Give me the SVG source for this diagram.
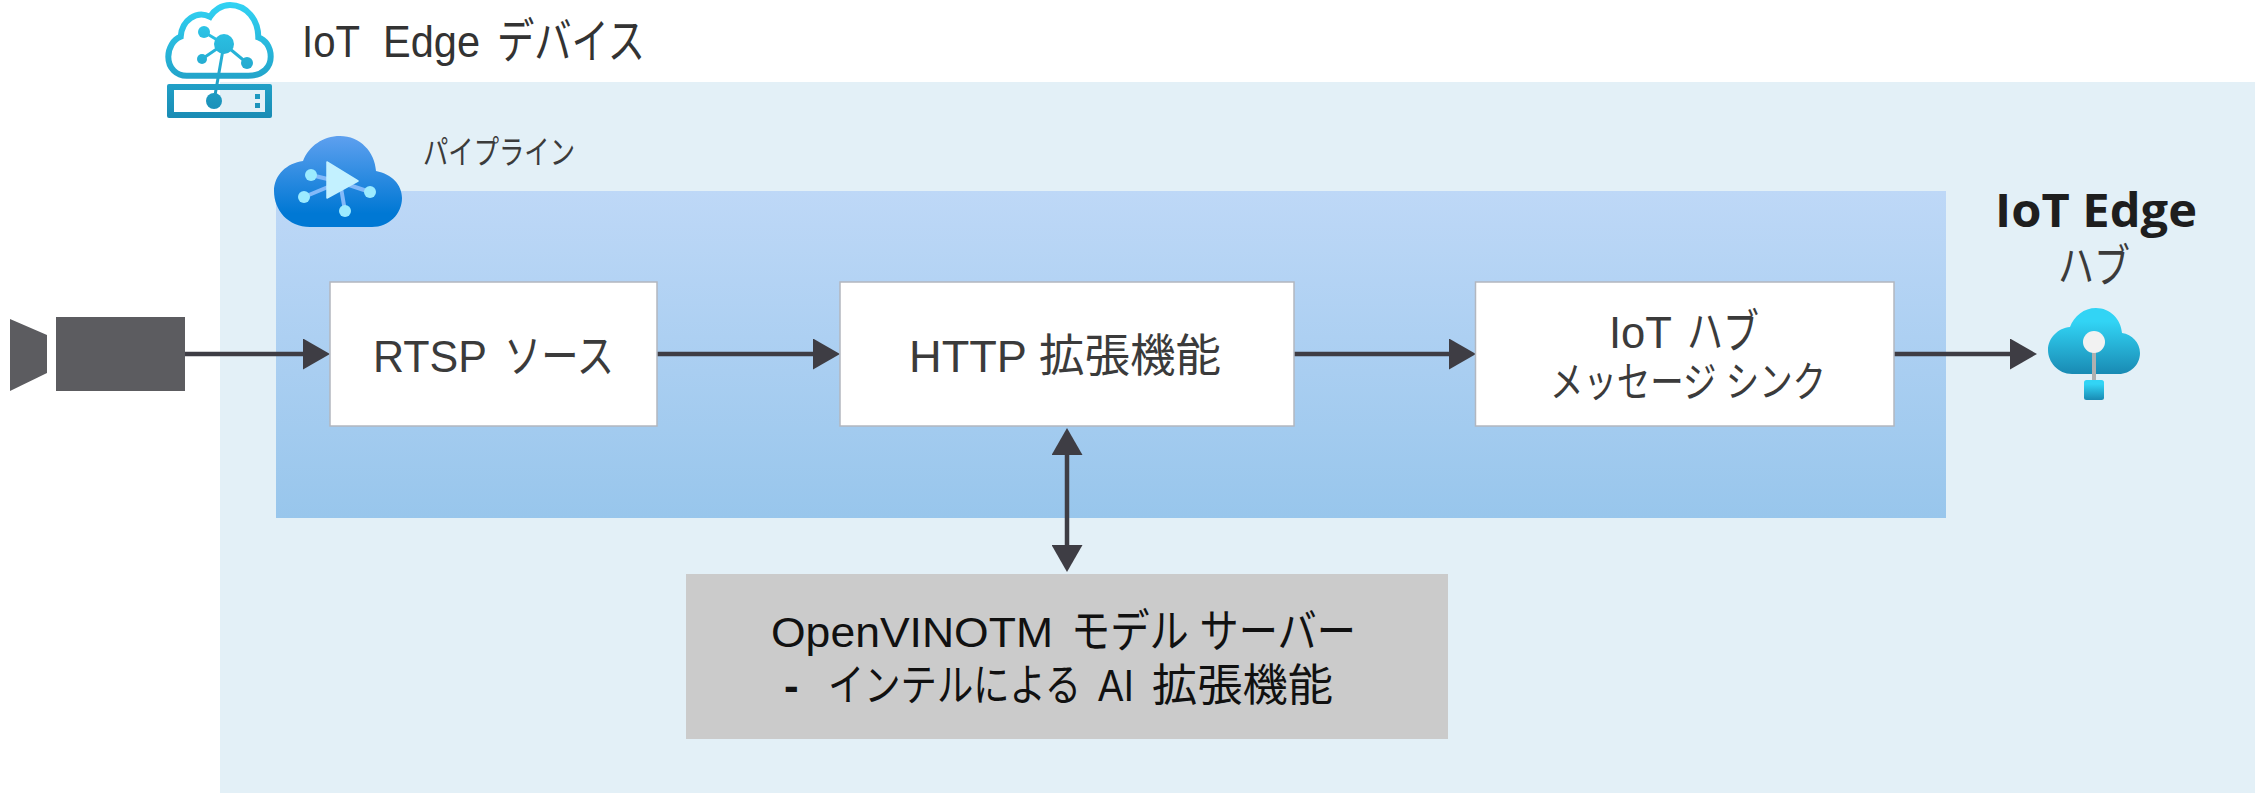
<svg xmlns="http://www.w3.org/2000/svg" width="2255" height="799" viewBox="0 0 2255 799">
<style>
.t{font-family:"Liberation Sans","Noto Sans CJK JP",sans-serif;fill:#3b3b3b}
.box{fill:#fff;stroke:#b2b7bf;stroke-width:1.5}
.cn{fill:none;stroke:#3e3d44;stroke-width:4.5}
</style>
<defs>
<linearGradient id="pipe" x1="0" y1="0" x2="0" y2="1"><stop offset="0" stop-color="#bed8f7"/><stop offset="1" stop-color="#98c6ec"/></linearGradient>
<linearGradient id="cy" gradientUnits="userSpaceOnUse" x1="0" y1="0" x2="0" y2="120"><stop offset="0" stop-color="#32d4f5"/><stop offset="1" stop-color="#198ab3"/></linearGradient>
<linearGradient id="bl" x1="0" y1="0" x2="0" y2="1"><stop offset="0" stop-color="#5ea0ef"/><stop offset="0.85" stop-color="#0078d4"/></linearGradient>
<linearGradient id="hub" x1="0" y1="0" x2="0" y2="1"><stop offset="0.2" stop-color="#32d4f5"/><stop offset="1" stop-color="#198ab3"/></linearGradient>
<marker id="ah" markerUnits="userSpaceOnUse" markerWidth="27" markerHeight="31" refX="17" refY="15.5" orient="auto-start-reverse"><path d="M0 0L27 15.5L0 31Z" fill="#3e3d44"/></marker>
</defs>
<rect id="edge-device-area" x="220" y="82" width="2035" height="711" fill="#e3f0f7"/>
<rect id="pipeline-area" x="276" y="191" width="1670" height="327" fill="url(#pipe)"/>
<g id="edge-device-icon">
<path d="M186.700 75.700L248.300 75.700C263.300 75.700 270.700 66.700 270.700 56.700C270.700 46.700 265 39.300 258.300 37.300C258.300 20 246.700 5 230 5C221.700 5 214 10 210 16.700C196.700 10 181.700 20 180.700 36.700C173.300 39.300 168.300 48.300 168.300 56.700C168.300 68.300 176.700 75.700 186.700 75.700Z" fill="none" stroke="url(#cy)" stroke-width="6"/>
<path d="M224 44L204 32M224 44L202 59M224 44L247 63M224 44L214 101" fill="none" stroke="url(#cy)" stroke-width="3"/>
<circle cx="224" cy="44" r="10" fill="url(#cy)"/><circle cx="204" cy="32" r="6" fill="url(#cy)"/><circle cx="202" cy="59" r="5" fill="url(#cy)"/><circle cx="247" cy="63" r="6" fill="url(#cy)"/><circle cx="214" cy="101" r="8" fill="url(#cy)"/>
<path fill-rule="evenodd" d="M169 84H270a2 2 0 0 1 2 2V116a2 2 0 0 1-2 2H169a2 2 0 0 1-2-2V86a2 2 0 0 1 2-2ZM174 90V112H265V90Z" fill="url(#cy)"/>
<rect x="255" y="94" width="5" height="5" fill="url(#cy)"/><rect x="255" y="103" width="5" height="5" fill="url(#cy)"/>
</g>
<text id="edge-device-label" class="t" y="57" font-size="45" style="fill:#333"><tspan x="302" textLength="58" lengthAdjust="spacingAndGlyphs">IoT</tspan><tspan x="383" y="57" textLength="97" lengthAdjust="spacingAndGlyphs">Edge</tspan><tspan x="497" y="58" font-size="48" textLength="148" lengthAdjust="spacingAndGlyphs">デバイス</tspan></text>
<g id="pipeline-icon">
<path d="M310 227C288 227 274 210 274 191C274 175 287 163 303 161C309 146 323 136 340 136C360 136 375 152 376 171C392 174 402 185 402 198C402 214 389 227 372 227Z" fill="url(#bl)"/>
<path d="M311 175L340 182M304 197L340 182M370 192L340 182M345 211L340 182" fill="none" stroke="#83b9f9" stroke-width="4"/>
<circle cx="311" cy="175" r="6" fill="#9cebff"/><circle cx="304" cy="197" r="6" fill="#9cebff"/><circle cx="370" cy="192" r="6" fill="#9cebff"/><circle cx="345" cy="211" r="6" fill="#9cebff"/>
<path d="M327 162L358 181L327 198Z" fill="#c3f1ff" stroke="#c3f1ff" stroke-width="1.500" stroke-linejoin="round"/>
</g>
<text id="pipeline-label" class="t" x="423" y="164" font-size="33" textLength="152" lengthAdjust="spacingAndGlyphs">パイプライン</text>
<g id="camera">
<path d="M10 319L47 335V373L10 391Z" fill="#5c5c60"/>
<rect x="56" y="317" width="129" height="74" fill="#5c5c60"/>
</g>
<g id="connectors">
<path class="cn" d="M185 354H320" marker-end="url(#ah)"/>
<path class="cn" d="M657 354H830" marker-end="url(#ah)"/>
<path class="cn" d="M1294 354H1466" marker-end="url(#ah)"/>
<path class="cn" d="M1894 354H2027" marker-end="url(#ah)"/>
<path class="cn" d="M1067 438V562" marker-start="url(#ah)" marker-end="url(#ah)"/>
</g>
<g id="rtsp-source">
<rect class="box" x="330" y="282" width="327" height="144"/>
<text class="t" y="372" font-size="45"><tspan x="373" textLength="114" lengthAdjust="spacingAndGlyphs">RTSP</tspan><tspan x="504" y="372" font-size="46" textLength="110" lengthAdjust="spacingAndGlyphs">ソース</tspan></text>
</g>
<g id="http-extension">
<rect class="box" x="840" y="282" width="454" height="144"/>
<text class="t" y="372" font-size="45"><tspan x="909" textLength="118" lengthAdjust="spacingAndGlyphs">HTTP</tspan><tspan x="1039" y="372" textLength="182" lengthAdjust="spacingAndGlyphs">拡張機能</tspan></text>
</g>
<g id="iot-hub-sink">
<rect class="box" x="1475.500" y="282" width="418.500" height="144"/>
<text class="t" y="348" font-size="45"><tspan x="1609" textLength="63" lengthAdjust="spacingAndGlyphs">IoT</tspan><tspan x="1687" y="348" font-size="47" textLength="72" lengthAdjust="spacingAndGlyphs">ハブ</tspan></text>
<text class="t" y="397" font-size="42"><tspan x="1550" textLength="276" lengthAdjust="spacingAndGlyphs">メッセージ シンク</tspan></text>
</g>
<g id="openvino-server">
<rect x="686" y="574" width="762" height="165" fill="#cbcbcb"/>
<text class="t" y="647" font-size="43" style="fill:#111"><tspan x="771" textLength="282" lengthAdjust="spacingAndGlyphs">OpenVINOTM</tspan><tspan x="1071" y="647" font-size="46" textLength="285" lengthAdjust="spacingAndGlyphs">モデル サーバー</tspan></text>
<text class="t" y="701" font-size="44" style="fill:#111"><tspan x="784" font-weight="700">-</tspan><tspan x="828" y="701" textLength="253" lengthAdjust="spacingAndGlyphs">インテルによる</tspan><tspan x="1098" y="701" textLength="36" lengthAdjust="spacingAndGlyphs">AI</tspan><tspan x="1152" y="701" textLength="181" lengthAdjust="spacingAndGlyphs">拡張機能</tspan></text>
</g>
<g id="iot-edge-hub">
<text class="t" x="1995" y="227" font-size="46" font-weight="700" style="fill:#1e1e1e;font-family:'Open Sans','Liberation Sans',sans-serif" textLength="202" lengthAdjust="spacingAndGlyphs">IoT Edge</text>
<text class="t" x="2058" y="282" font-size="46" textLength="72" lengthAdjust="spacingAndGlyphs">ハブ</text>
<path d="M2072 374C2058 374 2048 362 2048 350C2048 338 2058 328 2070 327C2074 316 2084 308 2096 308C2110 308 2121 319 2122 333C2132 334 2140 343 2140 353C2140 365 2130 374 2119 374Z" fill="url(#hub)"/>
<path d="M2094 342V384" stroke="#b0b0b0" stroke-width="4" fill="none"/>
<circle cx="2094" cy="342" r="11" fill="#f2f2f2"/>
<rect x="2084" y="380" width="20" height="20" rx="2.500" fill="url(#hub)"/>
</g>
</svg>
